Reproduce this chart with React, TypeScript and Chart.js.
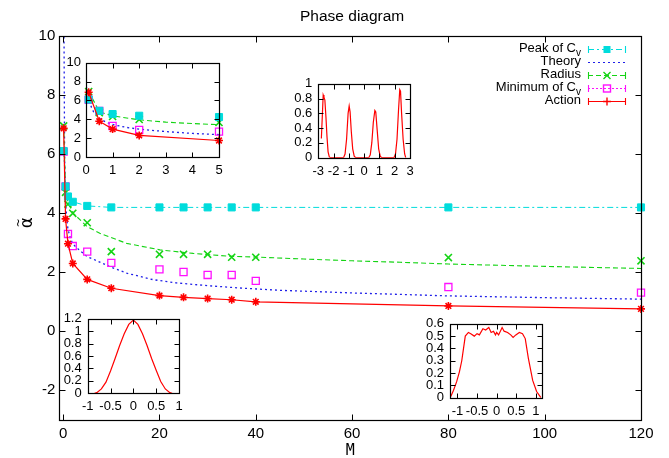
import React, { useEffect, useRef } from "react";
import { Chart, registerables } from "chart.js";
Chart.register(...registerables);

const CYAN = "#00dcdc";
const BLUE = "#2020e8";
const GREEN = "#14d414";
const MAGENTA = "#ff10ff";
const RED = "#ff0000";
const SANS = '"Liberation Sans", Arial, sans-serif';
const MONO = '"DejaVu Sans Mono", monospace';

// ---- main plot data ----
const M_VALUES = [0.1, 0.5, 1, 2, 5, 10, 20, 25, 30, 35, 40, 80, 120];
const PEAK_CV = [6.1, 4.9, 4.56, 4.38, 4.24, 4.19, 4.19, 4.19, 4.19, 4.19, 4.19, 4.19, 4.19];
const RADIUS = [6.95, 4.7, 4.3, 3.99, 3.67, 2.69, 2.6, 2.6, 2.6, 2.5, 2.5, 2.49, 2.38];
const MIN_CV = [6.08, 4.9, 3.29, 2.88, 2.69, 2.31, 2.09, 2.0, 1.9, 1.9, 1.7, 1.49, 1.3];
const ACTION = [6.87, 3.8, 2.96, 2.29, 1.75, 1.45, 1.2, 1.14, 1.1, 1.06, 0.99, 0.85, 0.75];

const THEORY_M = [0.15, 0.3, 0.5, 0.75, 1, 1.5, 2, 3.5, 5, 6.2, 9.7, 13.2, 18.7, 23.5, 30.5, 37.4, 45, 60, 80, 100, 120];
const THEORY_A = [11, 6.0, 4.4, 3.8, 3.45, 3.15, 2.95, 2.72, 2.52, 2.44, 2.18, 1.96, 1.74, 1.63, 1.53, 1.45, 1.38, 1.29, 1.19, 1.13, 1.08];
const RADIUS_FIT_M = [0.1, 0.5, 1, 2.1, 4.9, 7.6, 13.2, 20.1, 27, 33.9, 40.9, 50, 60, 70, 80, 100, 120];
const RADIUS_FIT_A = [7.0, 4.75, 4.35, 3.99, 3.55, 3.31, 2.97, 2.75, 2.63, 2.54, 2.5, 2.44, 2.38, 2.33, 2.27, 2.19, 2.12];

const MAIN_X_TICKS = [0, 20, 40, 60, 80, 100, 120];
const MAIN_Y_TICKS = [-2, 0, 2, 4, 6, 8, 10];

// ---- inset 1 (zoom on small M) ----
const INSET_COUNT = 5;
const INSET_THEORY_M = [0.01, 0.1, 0.2, 0.3, 0.5, 0.75, 1, 1.5, 2, 3, 4, 5];
const INSET_THEORY_A = [7.5, 6.2, 5.3, 4.7, 4.1, 3.7, 3.45, 3.15, 2.95, 2.7, 2.5, 2.38];
const INSET_RADIUS_FIT_M = [0.1, 0.5, 1, 2, 3, 4, 5];
const INSET_RADIUS_FIT_A = [7.0, 4.8, 4.36, 3.95, 3.7, 3.55, 3.43];
const INSET1_X_TICKS = [0, 1, 2, 3, 4, 5];
const INSET1_Y_TICKS = [0, 2, 4, 6, 8, 10];

// ---- inset 2 (four peaks) ----
const WAVE_X = [-2.8, -2.74, -2.68, -2.63, -2.57, -2.5, -2.43, -2.36, -2.28, -2.2, -1.35, -1.25, -1.15, -1.05, -0.98, -0.92, -0.84, -0.75, -0.65, -0.55, 0.3, 0.4, 0.5, 0.6, 0.7, 0.76, 0.85, 0.95, 1.05, 1.15, 1.95, 2.05, 2.15, 2.25, 2.33, 2.38, 2.45, 2.55, 2.65, 2.72];
const WAVE_Y = [0.26, 0.55, 0.85, 0.82, 0.78, 0.55, 0.28, 0.08, 0.01, 0, 0, 0.05, 0.25, 0.6, 0.7, 0.62, 0.35, 0.12, 0.02, 0, 0, 0.04, 0.2, 0.48, 0.64, 0.62, 0.38, 0.12, 0.02, 0, 0, 0.05, 0.25, 0.65, 0.92, 0.9, 0.6, 0.25, 0.05, 0];
const INSET2_X_TICKS = [-3, -2, -1, 0, 1, 2, 3];
const INSET2_Y_TICKS = [0, 0.2, 0.4, 0.6, 0.8, 1];

// ---- inset 3 (bell) ----
const BELL_X = [-0.85, -0.8, -0.7, -0.6, -0.5, -0.4, -0.3, -0.2, -0.1, 0, 0.1, 0.2, 0.3, 0.4, 0.5, 0.6, 0.7, 0.8, 0.85];
const BELL_Y = [0, 0.01, 0.07, 0.18, 0.36, 0.56, 0.77, 0.96, 1.11, 1.18, 1.11, 0.96, 0.77, 0.56, 0.37, 0.19, 0.07, 0.01, 0];
const INSET3_X_TICKS = [-1, -0.5, 0, 0.5, 1];
const INSET3_Y_TICKS = [0, 0.2, 0.4, 0.6, 0.8, 1, 1.2];

// ---- inset 4 (plateau) ----
const FLAT_X = [-1.17, -1.1, -1.02, -0.95, -0.89, -0.8, -0.72, -0.66, -0.57, -0.5, -0.44, -0.35, -0.28, -0.2, -0.14, -0.08, -0.03, 0, 0.05, 0.14, 0.19, 0.28, 0.36, 0.42, 0.49, 0.58, 0.66, 0.73, 0.81, 0.92, 1.02, 1.13];
const FLAT_Y = [0.01, 0.06, 0.13, 0.21, 0.3, 0.5, 0.53, 0.52, 0.5, 0.52, 0.51, 0.56, 0.55, 0.57, 0.53, 0.54, 0.51, 0.53, 0.51, 0.57, 0.54, 0.53, 0.51, 0.49, 0.51, 0.53, 0.52, 0.48, 0.32, 0.14, 0.05, 0];
const INSET4_X_TICKS = [-1, -0.5, 0, 0.5, 1];
const INSET4_Y_TICKS = [0, 0.1, 0.2, 0.3, 0.4, 0.5, 0.6];

const LEGEND_LABELS = ["Peak of C", "Theory", "Radius", "Minimum of C", "Action"];
const LEGEND_SUBS = ["v", "", "", "v", ""];

const pts = (xs: number[], ys: number[]) => xs.map((x, i) => ({ x, y: ys[i] }));
const fmt = (v: number) => String(Number(v.toFixed(2)));

function axis(min: number, max: number, ticks: number[], isX: boolean, size: number, fontSize: number, padding: number) {
  return {
    type: "linear",
    min,
    max,
    afterBuildTicks: (s: any) => {
      s.ticks = ticks.map((v) => ({ value: v }));
    },
    afterFit: (s: any) => {
      if (isX) s.height = size;
      else s.width = size;
    },
    grid: { display: false, drawTicks: false },
    border: { display: false },
    ticks: {
      color: "#000",
      font: { family: SANS, size: fontSize },
      padding,
      autoSkip: false,
      maxRotation: 0,
      minRotation: 0,
      callback: (v: number) => fmt(v),
    },
  };
}

const framePlugin = {
  id: "frame",
  afterDraw(chart: any, _args: any, opts: any) {
    const { ctx, chartArea: a, scales } = chart;
    const L = opts.tick || 5;
    ctx.save();
    ctx.strokeStyle = "#000";
    ctx.lineWidth = 1;
    const l = Math.round(a.left) + 0.5;
    const r = Math.round(a.right) + 0.5;
    const t = Math.round(a.top) + 0.5;
    const b = Math.round(a.bottom) + 0.5;
    ctx.beginPath();
    scales.x.ticks.forEach((tk: any) => {
      const p = Math.round(scales.x.getPixelForValue(tk.value)) + 0.5;
      ctx.moveTo(p, b);
      ctx.lineTo(p, b - L);
      ctx.moveTo(p, t);
      ctx.lineTo(p, t + L);
    });
    scales.y.ticks.forEach((tk: any) => {
      const p = Math.round(scales.y.getPixelForValue(tk.value)) + 0.5;
      ctx.moveTo(l, p);
      ctx.lineTo(l + L, p);
      ctx.moveTo(r, p);
      ctx.lineTo(r - L, p);
    });
    ctx.stroke();
    ctx.lineWidth = 1.2;
    ctx.strokeRect(l, t, r - l, b - t);
    ctx.restore();
  },
};

function drawMarker(ctx: CanvasRenderingContext2D, kind: string, x: number, y: number, color: string) {
  ctx.save();
  ctx.setLineDash([]);
  ctx.strokeStyle = color;
  ctx.fillStyle = color;
  ctx.lineWidth = 1.4;
  ctx.beginPath();
  if (kind === "rectFill") {
    ctx.fillRect(x - 3.5, y - 3.5, 7, 7);
  } else if (kind === "rect") {
    ctx.strokeRect(x - 3.5, y - 3.5, 7, 7);
  } else if (kind === "x") {
    ctx.moveTo(x - 3.5, y - 3.5);
    ctx.lineTo(x + 3.5, y + 3.5);
    ctx.moveTo(x - 3.5, y + 3.5);
    ctx.lineTo(x + 3.5, y - 3.5);
    ctx.stroke();
  } else if (kind === "star") {
    ctx.moveTo(x - 4, y);
    ctx.lineTo(x + 4, y);
    ctx.moveTo(x, y - 4);
    ctx.lineTo(x, y + 4);
    ctx.stroke();
  }
  ctx.restore();
}

const LEGEND_STYLE = [
  { color: CYAN, dash: [6, 3, 2, 3], marker: "rectFill", caps: true },
  { color: BLUE, dash: [2, 3], marker: "", caps: false },
  { color: GREEN, dash: [5, 3], marker: "x", caps: true },
  { color: MAGENTA, dash: [2, 2], marker: "rect", caps: true },
  { color: RED, dash: [], marker: "star", caps: true },
];

const textPlugin = {
  id: "texts",
  afterDraw(chart: any) {
    const { ctx, chartArea: a } = chart;
    ctx.save();
    ctx.fillStyle = "#000";
    // title
    ctx.font = `15.5px ${SANS}`;
    ctx.textAlign = "center";
    ctx.textBaseline = "middle";
    ctx.fillText("Phase diagram", (a.left + a.right) / 2 + 2, 17);
    // x title
    ctx.font = `15px ${MONO}`;
    ctx.fillText("M", (a.left + a.right) / 2, 451);
    // y title: alpha with tilde above (rotated)
    ctx.save();
    ctx.translate(27, (a.top + a.bottom) / 2 - 5);
    ctx.rotate(-Math.PI / 2);
    ctx.font = `17px ${MONO}`;
    ctx.textBaseline = "alphabetic";
    ctx.fillText("\u03B1", 0, 5);
    ctx.font = `13px ${MONO}`;
    ctx.fillText("~", 0, -5);
    ctx.restore();
    // legend
    const rightText = 581;
    ctx.textBaseline = "middle";
    for (let i = 0; i < LEGEND_LABELS.length; i++) {
      const y = 49 + 13 * i;
      const lab = LEGEND_LABELS[i];
      const sub = LEGEND_SUBS[i];
      ctx.font = `10px ${SANS}`;
      const sw = sub ? ctx.measureText(sub).width : 0;
      ctx.font = `13px ${SANS}`;
      const mw = ctx.measureText(lab).width;
      ctx.textAlign = "left";
      ctx.fillStyle = "#000";
      ctx.fillText(lab, rightText - sw - mw, y - 1);
      if (sub) {
        ctx.font = `10px ${SANS}`;
        ctx.fillText(sub, rightText - sw, y + 4);
      }
      const st = LEGEND_STYLE[i];
      const x0 = 588;
      const x1 = 626;
      ctx.strokeStyle = st.color;
      ctx.lineWidth = 1.1;
      ctx.setLineDash(st.dash);
      ctx.beginPath();
      ctx.moveTo(x0, y + 0.5);
      ctx.lineTo(x1, y + 0.5);
      ctx.stroke();
      ctx.setLineDash([]);
      if (st.caps) {
        ctx.beginPath();
        ctx.moveTo(x0 + 0.5, y - 3);
        ctx.lineTo(x0 + 0.5, y + 4);
        ctx.moveTo(x1 - 0.5, y - 3);
        ctx.lineTo(x1 - 0.5, y + 4);
        ctx.stroke();
      }
      if (st.marker) drawMarker(ctx, st.marker, 607, y + 0.5, st.color);
    }
    ctx.restore();
  },
};

function baseOptions(xAxis: any, yAxis: any, pad: any, tick: number) {
  return {
    animation: false,
    responsive: false,
    events: [],
    layout: { padding: pad },
    elements: { line: { tension: 0 } },
    plugins: {
      legend: { display: false },
      tooltip: { enabled: false },
      title: { display: false },
      frame: { tick },
    },
    scales: { x: xAxis, y: yAxis },
  };
}

function mainConfig(): any {
  return {
    type: "scatter",
    data: {
      datasets: [
        { data: pts(M_VALUES, ACTION), showLine: true, borderColor: RED, borderWidth: 1.2, pointStyle: "star", pointRadius: 4, pointBorderColor: RED, pointBorderWidth: 1.6, clip: false },
        { data: pts(M_VALUES, PEAK_CV), showLine: true, borderColor: CYAN, borderWidth: 1, borderDash: [6, 3, 2, 3], pointStyle: "rect", pointRadius: 5, pointBackgroundColor: CYAN, pointBorderColor: CYAN, clip: false },
        { data: pts(M_VALUES, RADIUS), showLine: false, pointStyle: "crossRot", pointRadius: 5, pointBorderColor: GREEN, pointBorderWidth: 1.6, clip: false },
        { data: pts(M_VALUES, MIN_CV), showLine: false, pointStyle: "rect", pointRadius: 5, pointBackgroundColor: "rgba(0,0,0,0)", pointBorderColor: MAGENTA, pointBorderWidth: 1.3, clip: false },
        { data: pts(RADIUS_FIT_M, RADIUS_FIT_A), showLine: true, borderColor: GREEN, borderWidth: 1.1, borderDash: [5, 3], pointRadius: 0, clip: 0 },
        { data: pts(THEORY_M, THEORY_A), showLine: true, borderColor: BLUE, borderWidth: 1.3, borderDash: [2, 3], pointRadius: 0, clip: 0 },
      ],
    },
    options: baseOptions(
      axis(-0.8, 120, MAIN_X_TICKS, true, 38.5, 15, 5),
      axis(-3, 10, MAIN_Y_TICKS, false, 59.3, 15, 4),
      { left: 0, right: 28, top: 36, bottom: 0 },
      6
    ),
    plugins: [framePlugin, textPlugin],
  };
}

function inset1Config(): any {
  const n = INSET_COUNT;
  const mv = M_VALUES.slice(0, n);
  return {
    type: "scatter",
    data: {
      datasets: [
        { data: pts(mv, ACTION.slice(0, n)), showLine: true, borderColor: RED, borderWidth: 1.2, pointStyle: "star", pointRadius: 4, pointBorderColor: RED, pointBorderWidth: 1.6, clip: false },
        { data: pts(mv, PEAK_CV.slice(0, n)), showLine: false, pointStyle: "rect", pointRadius: 5, pointBackgroundColor: CYAN, pointBorderColor: CYAN, clip: false },
        { data: pts(mv, RADIUS.slice(0, n)), showLine: false, pointStyle: "crossRot", pointRadius: 5, pointBorderColor: GREEN, pointBorderWidth: 1.6, clip: false },
        { data: pts(mv, MIN_CV.slice(0, n)), showLine: false, pointStyle: "rect", pointRadius: 5, pointBackgroundColor: "rgba(0,0,0,0)", pointBorderColor: MAGENTA, pointBorderWidth: 1.3, clip: false },
        { data: pts(INSET_RADIUS_FIT_M, INSET_RADIUS_FIT_A), showLine: true, borderColor: GREEN, borderWidth: 1.1, borderDash: [5, 3], pointRadius: 0, clip: 0 },
        { data: pts(INSET_THEORY_M, INSET_THEORY_A), showLine: true, borderColor: BLUE, borderWidth: 1.3, borderDash: [2, 3], pointRadius: 0, clip: 0 },
      ],
    },
    options: baseOptions(
      axis(0, 5, INSET1_X_TICKS, true, 23, 13, 5.5),
      axis(0, 10, INSET1_Y_TICKS, false, 46, 13, 5),
      { left: 0, right: 11, top: 10.7, bottom: 0 },
      5
    ),
    plugins: [framePlugin],
  };
}

function curveConfig(xs: number[], ys: number[], xr: number[], yr: number[], xt: number[], yt: number[], w: number, h: number, r: number, t: number): any {
  return {
    type: "scatter",
    data: {
      datasets: [
        { data: pts(xs, ys), showLine: true, borderColor: RED, borderWidth: 1.2, pointRadius: 0, clip: 0 },
      ],
    },
    options: baseOptions(
      axis(xr[0], xr[1], xt, true, h, 13, 5.5),
      axis(yr[0], yr[1], yt, false, w, 13, 6),
      { left: 0, right: r, top: t, bottom: 0 },
      5
    ),
    plugins: [framePlugin],
  };
}

export default function App() {
  const mainRef = useRef<HTMLCanvasElement>(null);
  const in1Ref = useRef<HTMLCanvasElement>(null);
  const in2Ref = useRef<HTMLCanvasElement>(null);
  const in3Ref = useRef<HTMLCanvasElement>(null);
  const in4Ref = useRef<HTMLCanvasElement>(null);

  useEffect(() => {
    const charts = [
      new Chart(mainRef.current as any, mainConfig()),
      new Chart(in1Ref.current as any, inset1Config()),
      new Chart(in2Ref.current as any, curveConfig(WAVE_X, WAVE_Y, [-3, 3], [0, 1], INSET2_X_TICKS, INSET2_Y_TICKS, 48.3, 27.3, 10, 13.3)),
      new Chart(in3Ref.current as any, curveConfig(BELL_X, BELL_Y, [-1, 1], [0, 1.2], INSET3_X_TICKS, INSET3_Y_TICKS, 47.7, 26.7, 11, 13.3)),
      new Chart(in4Ref.current as any, curveConfig(FLAT_X, FLAT_Y, [-1.19, 1.15], [0, 0.6], INSET4_X_TICKS, INSET4_Y_TICKS, 50, 27.3, 13.3, 13.3)),
    ];
    return () => charts.forEach((c) => c.destroy());
  }, []);

  const abs = (left: number, top: number) => ({ position: "absolute" as const, left, top });
  return (
    <div style={{ position: "fixed", left: 0, top: 0, width: 669, height: 458, background: "#fff", overflow: "hidden" }}>
      <canvas ref={mainRef} width={669} height={458} style={abs(0, 0)} />
      <canvas ref={in1Ref} width={190} height={130} style={abs(40, 50)} />
      <canvas ref={in2Ref} width={150} height={115} style={abs(270, 70)} />
      <canvas ref={in3Ref} width={150} height={115} style={abs(40, 305)} />
      <canvas ref={in4Ref} width={155} height={115} style={abs(400, 310)} />
    </div>
  );
}
